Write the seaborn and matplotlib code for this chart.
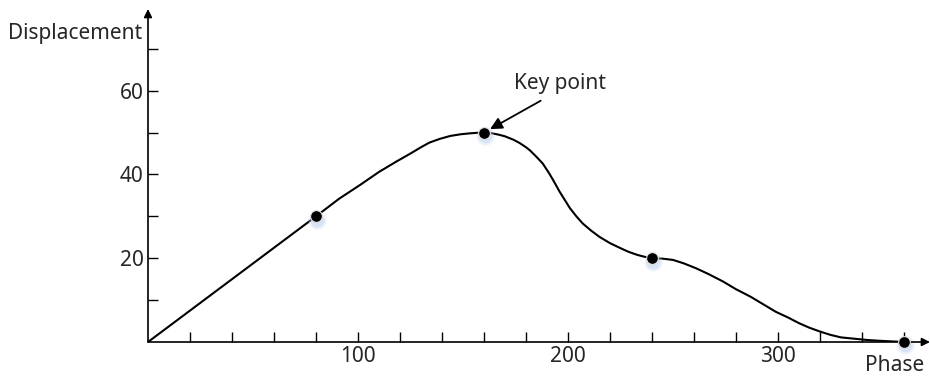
import matplotlib
matplotlib.use("Agg")
import matplotlib.pyplot as plt
import matplotlib.transforms as mtransforms
import seaborn as sns

# curve
curve_x = [0, 80, 91, 101, 110, 118, 125, 130, 134, 139, 144, 149, 153, 157, 160,
           163, 167, 170, 174, 177, 180, 182, 185, 188, 191, 193, 196, 198, 201,
           204, 207, 211, 215, 220, 225, 229, 233, 236, 240, 245, 250, 255, 261,
           267, 274, 280, 287, 293, 299, 305, 310, 315, 320, 325, 330, 336, 342,
           348, 352, 360]
curve_y = [0, 30, 34.2, 37.5, 40.6, 43.0, 45.0, 46.5, 47.6, 48.5, 49.2, 49.6, 49.8,
           49.95, 50, 49.9, 49.5, 49.1, 48.3, 47.5, 46.5, 45.7, 44.2, 42.6, 40.3,
           38.6, 35.9, 34.3, 31.9, 30.0, 28.3, 26.6, 25.1, 23.6, 22.4, 21.5, 20.8,
           20.4, 20.0, 19.9, 19.6, 18.8, 17.6, 16.2, 14.4, 12.6, 10.8, 9.0, 7.2,
           5.8, 4.5, 3.4, 2.5, 1.7, 1.1, 0.8, 0.5, 0.3, 0.2, 0]

# highlighted points
key_x = [80, 160, 240, 360]
key_y = [30, 50, 20, 0]

x_ticks = [20, 40, 60, 80, 100, 120, 140, 160, 180, 200, 220, 240, 260, 280, 300, 320, 340, 360]
x_tick_labels = ["", "", "", "", "100", "", "", "", "", "200", "", "", "", "", "300", "", "", ""]
y_ticks = [10, 20, 30, 40, 50, 60, 70]
y_tick_labels = ["", "20", "", "40", "", "60", ""]

sns.set_style("white")
plt.rcParams["font.family"] = ["Noto Sans", "DejaVu Sans"]
FS = 15

fig = plt.figure(figsize=(9.3, 3.76), dpi=100)
W, H = 930, 376
ax = fig.add_axes([148 / W, (H - 342) / H, (930 - 148) / W, (342 - 9) / H])
ax.set_xlim(0, 372.4)
ax.set_ylim(0, 79.5)

sns.lineplot(x=curve_x, y=curve_y, color="black", lw=1.5, ax=ax, sort=False)

# soft blue glow under the dots
glow = mtransforms.offset_copy(ax.transData, fig=fig, x=0.5, y=-2.5, units="points")
ax.scatter(key_x, key_y, s=170, color="#c4d6f4", alpha=0.3, linewidths=0,
           transform=glow, clip_on=False, zorder=3)
ax.scatter(key_x, key_y, s=100, color="#b3c8ee", alpha=0.35, linewidths=0,
           transform=glow, clip_on=False, zorder=3)
sns.scatterplot(x=key_x, y=key_y, s=72, color="black", edgecolor="#e0e0e0",
                linewidth=0.8, ax=ax, zorder=4, clip_on=False)

for s in ax.spines.values():
    s.set_visible(False)
ax.annotate("", xy=(1, 0), xytext=(0, 0), xycoords="axes fraction",
            arrowprops=dict(arrowstyle="-|>", color="black", lw=1.2,
                            mutation_scale=12, shrinkA=0, shrinkB=0))
ax.annotate("", xy=(0, 1), xytext=(0, 0), xycoords="axes fraction",
            arrowprops=dict(arrowstyle="-|>", color="black", lw=1.2,
                            mutation_scale=12, shrinkA=0, shrinkB=0))

ax.set_xticks(x_ticks)
ax.set_xticklabels(x_tick_labels)
ax.set_yticks(y_ticks)
ax.set_yticklabels(y_tick_labels)
ax.tick_params(direction="in", length=7.5, width=1.0, color="black",
               labelsize=FS, pad=3, bottom=True, left=True)
ax.set_xlabel("")
ax.set_ylabel("")

ax.annotate("Displacement", xy=(0, 73.7), xytext=(-4, 0), textcoords="offset points",
            ha="right", va="center", fontsize=FS, annotation_clip=False)
ax.text(355.7, -5.5, "Phase", ha="center", va="center", fontsize=FS, clip_on=False)

ax.text(196, 61.8, "Key point", ha="center", va="center", fontsize=FS)
ax.annotate("", xy=(160, 50), xytext=(187, 57.6),
            arrowprops=dict(arrowstyle="-|>", color="black", lw=1.3,
                            mutation_scale=18, shrinkA=0, shrinkB=5))

fig.savefig("out.png", dpi=100)
